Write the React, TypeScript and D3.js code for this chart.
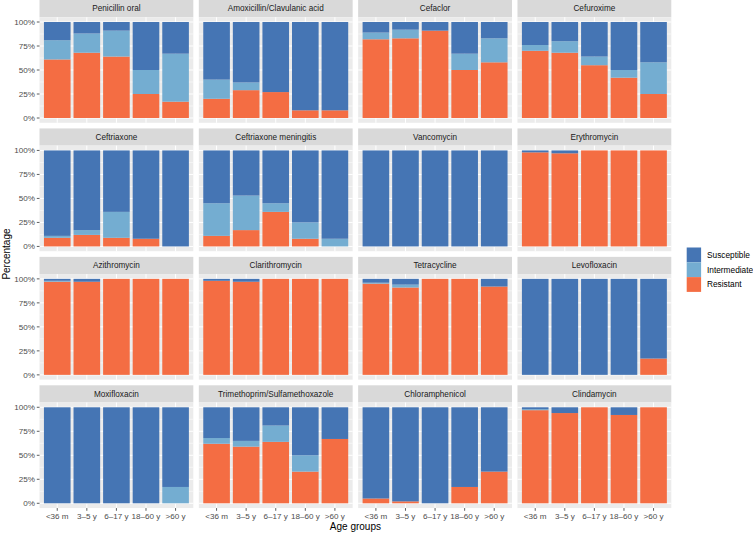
import React from "react";
import * as d3 from "d3";

const ageGroups = ["<36 m", "3–5 y", "6–17 y", "18–60 y", ">60 y"];
const antibiotics = [
  "Penicillin oral", "Amoxicillin/Clavulanic acid", "Cefaclor", "Cefuroxime",
  "Ceftriaxone", "Ceftriaxone meningitis", "Vancomycin", "Erythromycin",
  "Azithromycin", "Clarithromycin", "Tetracycline", "Levofloxacin",
  "Moxifloxacin", "Trimethoprim/Sulfamethoxazole", "Chloramphenicol", "Clindamycin",
];
const categories = ["Susceptible", "Intermediate", "Resistant"];
const colors = ["#4575b4", "#74add1", "#f46d43"];
const yTicks = [0, 0.25, 0.5, 0.75, 1];
const yTickLabels = ["0%", "25%", "50%", "75%", "100%"];

const resistant = [
  [0.61, 0.68, 0.64, 0.25, 0.17],
  [0.20, 0.29, 0.27, 0.08, 0.08],
  [0.82, 0.83, 0.91, 0.50, 0.58],
  [0.70, 0.68, 0.55, 0.42, 0.25],
  [0.09, 0.12, 0.09, 0.08, 0.00],
  [0.11, 0.17, 0.36, 0.08, 0.00],
  [0.00, 0.00, 0.00, 0.00, 0.00],
  [0.98, 0.97, 1.00, 1.00, 1.00],
  [0.97, 0.97, 1.00, 1.00, 1.00],
  [0.98, 0.97, 1.00, 1.00, 1.00],
  [0.95, 0.91, 1.00, 1.00, 0.92],
  [0.00, 0.00, 0.00, 0.00, 0.17],
  [0.00, 0.00, 0.00, 0.00, 0.00],
  [0.62, 0.59, 0.64, 0.33, 0.67],
  [0.05, 0.02, 0.00, 0.17, 0.33],
  [0.97, 0.94, 1.00, 0.92, 1.00],
];
const intermediate = [
  [0.20, 0.20, 0.27, 0.25, 0.50],
  [0.20, 0.08, 0.00, 0.00, 0.00],
  [0.07, 0.09, 0.00, 0.17, 0.25],
  [0.06, 0.12, 0.09, 0.08, 0.33],
  [0.02, 0.05, 0.27, 0.00, 0.00],
  [0.34, 0.36, 0.09, 0.17, 0.08],
  [0.00, 0.00, 0.00, 0.00, 0.00],
  [0.00, 0.00, 0.00, 0.00, 0.00],
  [0.01, 0.00, 0.00, 0.00, 0.00],
  [0.00, 0.00, 0.00, 0.00, 0.00],
  [0.01, 0.03, 0.00, 0.00, 0.00],
  [0.00, 0.00, 0.00, 0.00, 0.00],
  [0.00, 0.00, 0.00, 0.00, 0.17],
  [0.06, 0.06, 0.17, 0.17, 0.00],
  [0.00, 0.00, 0.00, 0.00, 0.00],
  [0.01, 0.00, 0.00, 0.00, 0.00],
];
const susceptible = [
  [0.19, 0.12, 0.09, 0.50, 0.33],
  [0.60, 0.63, 0.73, 0.92, 0.92],
  [0.11, 0.08, 0.09, 0.33, 0.17],
  [0.24, 0.20, 0.36, 0.50, 0.42],
  [0.89, 0.83, 0.64, 0.92, 1.00],
  [0.55, 0.47, 0.55, 0.75, 0.92],
  [1.00, 1.00, 1.00, 1.00, 1.00],
  [0.02, 0.03, 0.00, 0.00, 0.00],
  [0.02, 0.03, 0.00, 0.00, 0.00],
  [0.02, 0.03, 0.00, 0.00, 0.00],
  [0.04, 0.06, 0.00, 0.00, 0.08],
  [1.00, 1.00, 1.00, 1.00, 0.83],
  [1.00, 1.00, 1.00, 1.00, 0.83],
  [0.32, 0.35, 0.19, 0.50, 0.33],
  [0.95, 0.98, 1.00, 0.83, 0.67],
  [0.02, 0.06, 0.00, 0.08, 0.00],
];

const FONT = "'Liberation Sans', Arial, Helvetica, sans-serif";
const W = 753, H = 534;
const plotLeft = 39.5, plotRight = 671.3, gap = 5.5;
const panelW = (plotRight - plotLeft - 3 * gap) / 4;
const rowPitch = 128.43, stripH = 17.2, panelH = 105.6;

export default function App() {
  const x = d3.scaleBand<string>().domain(ageGroups).range([0, panelW]).paddingInner(0.1).paddingOuter(0.15);
  const y = d3.scaleLinear().domain([-0.05, 1.05]).range([panelH, 0]);
  const minor = [0.125, 0.375, 0.625, 0.875];

  const panels = antibiotics.map((name, i) => {
    const col = i % 4, row = Math.floor(i / 4);
    const px = plotLeft + col * (panelW + gap);
    const sy = row * rowPitch;
    const py = sy + stripH;
    const layers = [resistant[i], intermediate[i], susceptible[i]];
    const colorFor = [colors[2], colors[1], colors[0]];
    return (
      <g key={name}>
        <rect x={px} y={sy} width={panelW} height={stripH} fill="#d9d9d9" />
        <text x={px + panelW / 2} y={sy + stripH / 2} dy="0.35em" textAnchor="middle" fontSize={8.2} fill="#1a1a1a" fontFamily={FONT}>{name}</text>
        <g transform={`translate(${px},${py})`}>
          <rect width={panelW} height={panelH} fill="#ebebeb" />
          {minor.map((m) => <line key={"m" + m} x1={0} x2={panelW} y1={y(m)} y2={y(m)} stroke="#fff" strokeWidth={0.5} />)}
          {yTicks.map((t) => <line key={"t" + t} x1={0} x2={panelW} y1={y(t)} y2={y(t)} stroke="#fff" strokeWidth={1} />)}
          {ageGroups.map((g) => <line key={"v" + g} x1={x(g)! + x.bandwidth() / 2} x2={x(g)! + x.bandwidth() / 2} y1={0} y2={panelH} stroke="#fff" strokeWidth={1} />)}
          {ageGroups.map((g, j) => {
            let acc = 0;
            return layers.map((arr, k) => {
              const v = arr[j];
              const y0 = acc; acc += v;
              if (v <= 0) return null;
              return <rect key={g + k} x={x(g)} width={x.bandwidth()} y={y(Math.min(acc, 1))} height={y(y0) - y(Math.min(acc, 1))} fill={colorFor[k]} />;
            });
          })}
          {col === 0 && yTicks.map((t, k) => (
            <g key={"yt" + t}>
              <line x1={-2.7} x2={0} y1={y(t)} y2={y(t)} stroke="#333" strokeWidth={0.8} />
              <text x={-4.6} y={y(t)} dy="0.35em" textAnchor="end" fontSize={8.1} fill="#4d4d4d" fontFamily={FONT}>{yTickLabels[k]}</text>
            </g>
          ))}
          {row === 3 && ageGroups.map((g) => (
            <g key={"xt" + g}>
              <line x1={x(g)! + x.bandwidth() / 2} x2={x(g)! + x.bandwidth() / 2} y1={panelH} y2={panelH + 2.7} stroke="#333" strokeWidth={0.8} />
              <text x={x(g)! + x.bandwidth() / 2} y={panelH + 4.6} dy="0.75em" textAnchor="middle" fontSize={8.1} fill="#4d4d4d" fontFamily={FONT}>{g}</text>
            </g>
          ))}
        </g>
      </g>
    );
  });

  const plotBottom = 3 * rowPitch + stripH + panelH;
  const legendX = 686.7, legendY = 247.5, keyS = 14.8;

  return (
    <svg width={W} height={H} style={{ position: "absolute", left: 0, top: 0, background: "#fff" }}>
      {panels}
      <text x={(plotLeft + plotRight) / 2} y={530} textAnchor="middle" fontSize={10} fill="#000" fontFamily={FONT}>Age groups</text>
      <text transform={`translate(10,${plotBottom / 2}) rotate(-90)`} textAnchor="middle" fontSize={10} fill="#000" fontFamily={FONT}>Percentage</text>
      {categories.map((c, k) => (
        <g key={c}>
          <rect x={legendX} y={legendY + k * keyS} width={14.4} height={keyS} fill={colors[k]} />
          <text x={707} y={legendY + k * keyS + keyS / 2} dy="0.35em" fontSize={8.3} fill="#000" fontFamily={FONT}>{c}</text>
        </g>
      ))}
    </svg>
  );
}
